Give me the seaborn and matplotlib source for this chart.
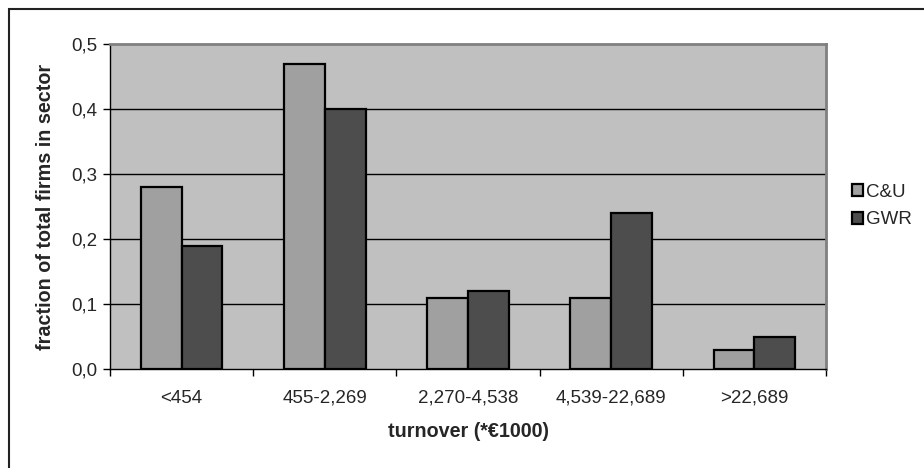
import matplotlib
matplotlib.use("Agg")
import matplotlib.pyplot as plt
from matplotlib.patches import Rectangle, Patch
import seaborn as sns
import pandas as pd

categories = ["<454", "455-2,269", "2,270-4,538", "4,539-22,689", ">22,689"]
series_names = ["C&U", "GWR"]
cu_values = [0.28, 0.47, 0.11, 0.11, 0.03]
gwr_values = [0.19, 0.40, 0.12, 0.24, 0.05]
y_ticks = [0.0, 0.1, 0.2, 0.3, 0.4, 0.5]
y_tick_labels = ["0,0", "0,1", "0,2", "0,3", "0,4", "0,5"]

df = pd.DataFrame({
    "turnover": categories * 2,
    "fraction": cu_values + gwr_values,
    "series": [series_names[0]] * len(categories) + [series_names[1]] * len(categories),
})

sns.set_theme(style="white")
plt.rcParams["font.family"] = ["Liberation Sans", "DejaVu Sans"]

FS = 13.5
LABEL_FS = 14.2
W, H = 924, 468
fig = plt.figure(figsize=(W / 100, H / 100), dpi=100)
ax = fig.add_axes([110 / W, 1 - 369 / H, (826 - 110) / W, (369 - 44) / H])

colors = {"C&U": "#a0a0a0", "GWR": "#4d4d4d"}
sns.barplot(data=df, x="turnover", y="fraction", hue="series", order=categories,
            hue_order=series_names, palette=colors, width=0.57, gap=0,
            edgecolor="black", linewidth=1.6, saturation=1, ax=ax, legend=False, zorder=3)

ax.set_facecolor("#c0c0c0")
ax.set_xlim(-0.5, len(categories) - 0.5)
ax.set_ylim(0, 0.5)

# horizontal gridlines
for y in y_ticks[1:-1]:
    ax.axhline(y, color="black", lw=1.0, zorder=1)

ax.set_yticks(y_ticks)
ax.set_yticklabels(y_tick_labels, fontsize=FS)

# ticks at category boundaries, labels centred under each group
ax.set_xticks([i - 0.5 for i in range(len(categories) + 1)])
ax.set_xticklabels([""] * (len(categories) + 1))
ax.set_xticks(range(len(categories)), minor=True)
ax.set_xticklabels(categories, minor=True, fontsize=FS)
ax.tick_params(axis="x", which="minor", length=0, pad=15)
ax.tick_params(axis="x", which="major", length=5, width=1, color="black", direction="out", bottom=True)
ax.tick_params(axis="y", length=5, width=1, color="black", direction="out", left=True, pad=4)

for side in ["left", "bottom"]:
    ax.spines[side].set_color("black")
    ax.spines[side].set_linewidth(1.0)
for side in ["top", "right"]:
    ax.spines[side].set_color("#808080")
    ax.spines[side].set_linewidth(2.0)

ax.set_xlabel("turnover (*€1000)", fontsize=LABEL_FS, fontweight="bold", labelpad=11)
ax.set_ylabel("fraction of total firms in sector", fontsize=LABEL_FS, fontweight="bold", labelpad=12)

handles = [Patch(facecolor=colors[s], edgecolor="black", linewidth=1.6, label=s) for s in series_names]
fig.legend(handles=handles, loc="center left", bbox_to_anchor=(852 / W, 1 - 206 / H),
           frameon=False, fontsize=FS, handlelength=0.6, handleheight=0.6,
           handletextpad=0.15, labelspacing=0.55, borderaxespad=0, borderpad=0)

# outer chart frame
fig.patches.append(Rectangle((8.5 / W, -0.1), 1.2, 1 - 8.5 / H + 0.1, transform=fig.transFigure,
                             fill=False, edgecolor="#222222", lw=1.5))

fig.savefig("out.png", dpi=100, facecolor="white")
